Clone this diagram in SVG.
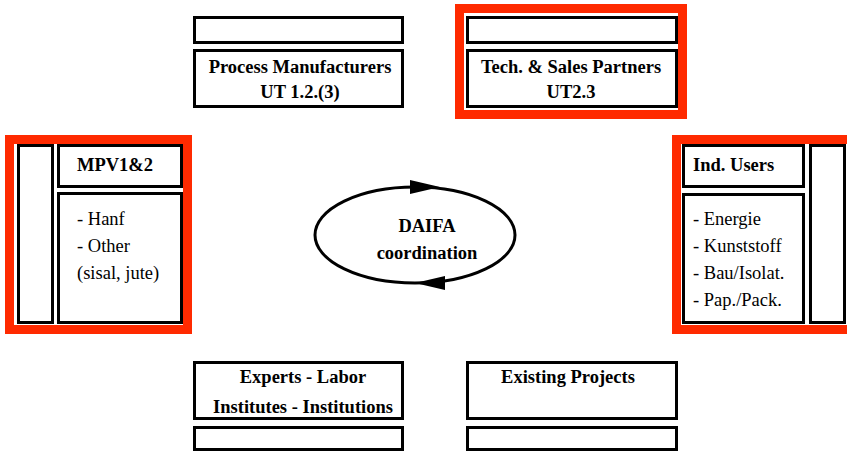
<svg xmlns="http://www.w3.org/2000/svg" width="847" height="452" viewBox="0 0 847 452">
<style>
.b{fill:#fff;stroke:#000;stroke-width:3}
.r{fill:#fff;stroke:#ff2a00;stroke-width:9}
.t{font-family:"Liberation Serif","Times New Roman",serif;font-size:18.5px;fill:#000}
.tb{font-family:"Liberation Serif","Times New Roman",serif;font-size:18.5px;font-weight:bold;fill:#000}
.m{text-anchor:middle}
</style>
<rect width="847" height="452" fill="#fff"/>
<g id="process-manufacturers">
<rect class="b" x="194.5" y="17.5" width="208" height="25"/>
<rect class="b" x="194.5" y="50.5" width="208" height="56"/>
<text class="tb m" x="300" y="73">Process Manufacturers</text>
<text class="tb m" x="300" y="98">UT 1.2.(3)</text>
</g>
<g id="tech-sales-partners">
<rect class="r" x="459.5" y="8.5" width="223" height="106"/>
<rect class="b" x="467.5" y="17.5" width="209" height="25"/>
<rect class="b" x="467.5" y="50.5" width="209" height="56"/>
<text class="tb m" x="571" y="73">Tech. &amp; Sales Partners</text>
<text class="tb m" x="571" y="98">UT2.3</text>
</g>
<g id="mpv">
<rect class="r" x="9.5" y="139.5" width="178" height="190"/>
<rect class="b" x="18.5" y="145.5" width="34" height="177"/>
<rect class="b" x="58.5" y="145.5" width="123" height="41"/>
<rect class="b" x="58.5" y="193.5" width="123" height="129"/>
<text class="tb" x="77" y="171">MPV1&amp;2</text>
<text class="t" x="77" y="225">- Hanf</text>
<text class="t" x="77" y="252">- Other</text>
<text class="t" x="77" y="279">(sisal, jute)</text>
</g>
<g id="ind-users">
<rect class="r" x="676.5" y="139.5" width="180" height="190"/>
<rect class="b" x="683.5" y="145.5" width="120" height="41"/>
<rect class="b" x="683.5" y="194.5" width="120" height="128"/>
<rect class="b" x="810.5" y="145.5" width="34" height="177"/>
<text class="tb" x="693" y="171">Ind. Users</text>
<text class="t" x="693" y="225">- Energie</text>
<text class="t" x="693" y="252">- Kunststoff</text>
<text class="t" x="693" y="279">- Bau/Isolat.</text>
<text class="t" x="693" y="306">- Pap./Pack.</text>
</g>
<g id="experts">
<rect class="b" x="194.5" y="362.5" width="208" height="56"/>
<rect class="b" x="194.5" y="427.5" width="208" height="22"/>
<text class="tb m" x="303" y="383">Experts - Labor</text>
<text class="tb m" x="303" y="413">Institutes - Institutions</text>
</g>
<g id="existing-projects">
<rect class="b" x="467.5" y="362.5" width="209" height="56"/>
<rect class="b" x="467.5" y="427.5" width="209" height="22"/>
<text class="tb m" x="568" y="383">Existing Projects</text>
</g>
<g id="daifa">
<ellipse cx="415" cy="235" rx="100" ry="48" fill="#fff" stroke="#000" stroke-width="3"/>
<text class="tb m" x="427" y="232">DAIFA</text>
<text class="tb m" x="427" y="259">coordination</text>
</g>
<g id="connectors">
<polygon points="410,180 440,187 410,194" fill="#000"/>
<polygon points="445,276 415,283 445,290" fill="#000"/>
</g>
</svg>
